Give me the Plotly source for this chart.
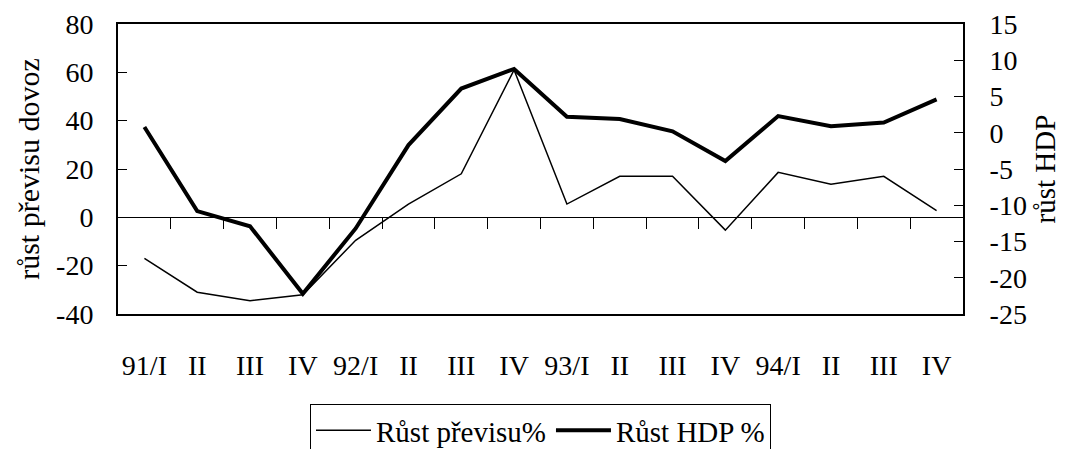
import plotly.graph_objects as go

categories = ["91/I", "II", "III", "IV", "92/I", "II", "III", "IV",
              "93/I", "II", "III", "IV", "94/I", "II", "III", "IV"]
previs = [-17, -31, -34.5, -32, -9.5, 5.5, 18, 61, 5.5, 17, 17, -5.3, 18.6, 13.7, 17, 2.8]
hdp = [0.8, -10.8, -12.9, -22.2, -13.2, -1.7, 6.1, 8.8, 2.2, 1.9, 0.2, -3.9, 2.3, 0.9, 1.4, 4.6]

left_ticks = [-40, -20, 0, 20, 40, 60, 80]
right_ticks = [-25, -20, -15, -10, -5, 0, 5, 10, 15]

series_names = ["Růst převisu%", "Růst HDP %"]
left_title = "růst převisu dovoz"
right_title = "růst HDP"

FONT = "Liberation Serif, Times New Roman, serif"
x = list(range(len(categories)))
boundaries = [i + 0.5 for i in range(len(categories) - 1)]

fig = go.Figure()
fig.add_trace(go.Scatter(x=x, y=previs, mode="lines", name=series_names[0],
                         line=dict(color="black", width=1.5), yaxis="y"))
fig.add_trace(go.Scatter(x=x, y=hdp, mode="lines", name=series_names[1],
                         line=dict(color="black", width=4), yaxis="y2"))
# invisible helper trace so the zero-line tick axis is drawn
fig.add_trace(go.Scatter(x=x, y=previs, mode="lines", xaxis="x2", yaxis="y",
                         line=dict(width=0), opacity=0, showlegend=False,
                         hoverinfo="skip"))

fig.update_layout(
    width=1053, height=441,
    margin=dict(l=110, r=98, t=16, b=135, autoexpand=False),
    paper_bgcolor="white", plot_bgcolor="white",
    font=dict(family=FONT, size=28, color="black"),
    xaxis=dict(range=[-0.5, len(categories) - 0.5], tickmode="array",
               tickvals=x, ticktext=categories, ticks="", showgrid=False,
               zeroline=False, showline=True, linecolor="black", linewidth=2,
               mirror=True, ticklabelstandoff=25, tickfont=dict(size=28)),
    xaxis2=dict(overlaying="x", anchor="free", position=40 / 120,
                range=[-0.5, len(categories) - 0.5], tickmode="array",
                tickvals=boundaries, ticks="outside", ticklen=11,
                tickcolor="black", tickwidth=1, showticklabels=False,
                showline=True, linecolor="black", linewidth=1,
                showgrid=False, zeroline=False),
    yaxis=dict(range=[-40, 80], tickmode="array", tickvals=left_ticks,
               ticktext=[str(v) for v in left_ticks],
               ticks="inside", ticklen=9,
               tickcolor="black", tickwidth=1, showgrid=False, zeroline=False,
               showline=True, linecolor="black", linewidth=2,
               tickfont=dict(size=28), ticklabelstandoff=17,
               title=dict(text=left_title, font=dict(size=30), standoff=8)),
    yaxis2=dict(overlaying="y", side="right", range=[-25, 15],
                tickmode="array", tickvals=right_ticks,
                ticktext=[str(v) for v in right_ticks],
                ticks="inside", ticklen=9, tickcolor="black", tickwidth=1,
                showgrid=False, zeroline=False, showline=True,
                linecolor="black", linewidth=2, tickfont=dict(size=28),
                ticklabelstandoff=19,
                title=dict(text=right_title, font=dict(size=29), standoff=13)),
    legend=dict(orientation="h", x=0.5, xanchor="center", y=-0.31,
                yanchor="top", bordercolor="black", borderwidth=1,
                font=dict(size=29), bgcolor="white", itemwidth=55),
    showlegend=True,
)

fig.write_html("out.html")
